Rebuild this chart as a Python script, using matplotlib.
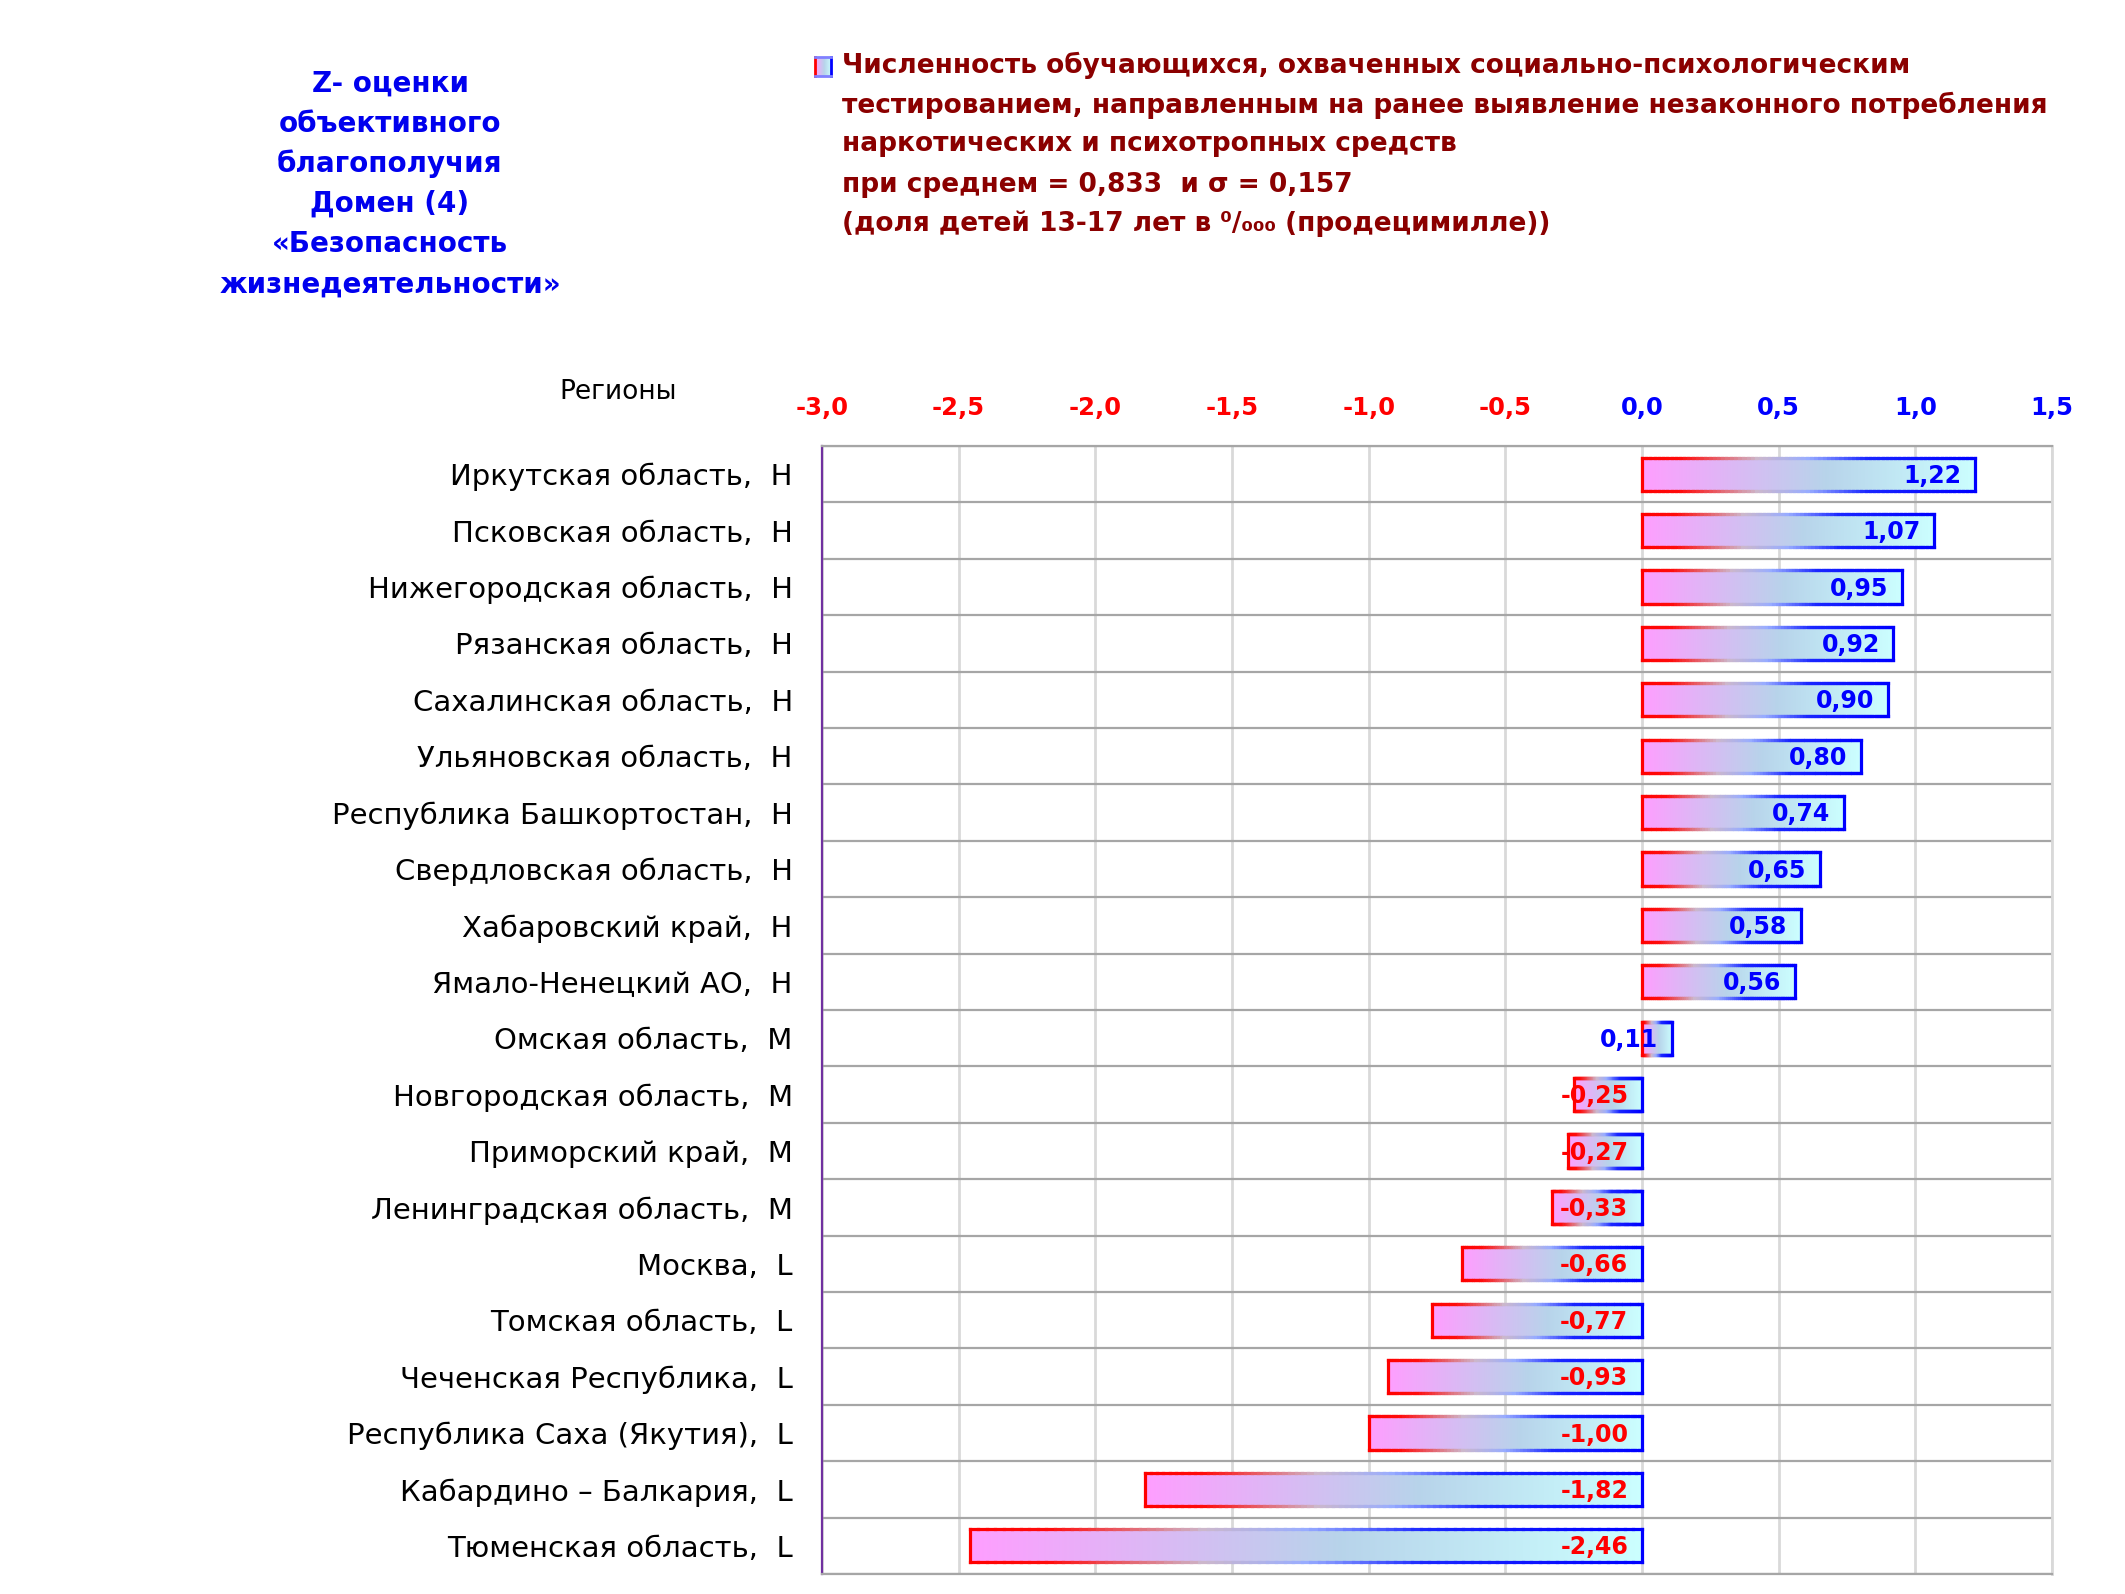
import numpy as np
import matplotlib
matplotlib.use("Agg")
import matplotlib.pyplot as plt
from matplotlib.colors import LinearSegmentedColormap
from matplotlib.collections import LineCollection

plt.rcParams['font.family'] = ['DejaVu Sans']

# ---------------- data ----------------
regions = [
    "Иркутская область", "Псковская область", "Нижегородская область",
    "Рязанская область", "Сахалинская область", "Ульяновская область",
    "Республика Башкортостан", "Свердловская область", "Хабаровский край",
    "Ямало-Ненецкий АО", "Омская область", "Новгородская область",
    "Приморский край", "Ленинградская область", "Москва", "Томская область",
    "Чеченская Республика", "Республика Саха (Якутия)", "Кабардино – Балкария",
    "Тюменская область",
]
grades = ["Н"] * 10 + ["М"] * 4 + ["L"] * 6
values = [1.22, 1.07, 0.95, 0.92, 0.90, 0.80, 0.74, 0.65, 0.58, 0.56,
          0.11, -0.25, -0.27, -0.33, -0.66, -0.77, -0.93, -1.00, -1.82, -2.46]
x_ticks = [-3.0, -2.5, -2.0, -1.5, -1.0, -0.5, 0.0, 0.5, 1.0, 1.5]

title_left = ["Z- оценки", "объективного", "благополучия", "Домен (4)",
              "«Безопасность", "жизнедеятельности»"]
legend_lines = [
    "Численность обучающихся, охваченных социально-психологическим",
    "тестированием, направленным на ранее выявление незаконного потребления",
    "наркотических и психотропных средств",
    "при среднем = 0,833  и σ = 0,157",
    "(доля детей 13-17 лет в ⁰/₀₀₀ (продецимилле))",
]

def fmt(v):
    return f"{v:.2f}".replace(".", ",")

# ---------------- figure ----------------
W, H = 2125, 1594
fig = plt.figure(figsize=(W / 100, H / 100), dpi=100)
ax = fig.add_axes([822 / W, 1 - 1574 / H, (2052 - 822) / W, (1574 - 446) / H])

fill_cmap = LinearSegmentedColormap.from_list(
    "fill", [(0.0, (1.0, 0.62, 1.0)), (0.55, (0.72, 0.83, 0.92)), (1.0, (0.8, 1.0, 1.0))])
edge_cmap = LinearSegmentedColormap.from_list(
    "edge", [(0.0, (1, 0, 0)), (0.12, (1, 0.05, 0.05)), (0.35, (0.8, 0.72, 0.8)),
             (0.5, (0.6, 0.68, 1.0)), (0.68, (0.1, 0.15, 1.0)), (1.0, (0, 0, 1))])

grad = np.linspace(0, 1, 256).reshape(1, -1)
bh = 0.59
n = len(values)
for i, v in enumerate(values):
    x0, x1 = min(0.0, v), max(0.0, v)
    ax.imshow(grad, cmap=fill_cmap, extent=[x0, x1, i + bh / 2, i - bh / 2],
              aspect="auto", zorder=3, interpolation="bilinear")
    xs = np.linspace(x0, x1, 80)
    segs, cols = [], []
    for k in range(len(xs) - 1):
        t = (k + 0.5) / (len(xs) - 1)
        for yy in (i - bh / 2, i + bh / 2):
            segs.append([(xs[k], yy), (xs[k + 1], yy)])
            cols.append(edge_cmap(t))
    segs.append([(x0, i - bh / 2), (x0, i + bh / 2)]); cols.append((1, 0, 0, 1))
    segs.append([(x1, i - bh / 2), (x1, i + bh / 2)]); cols.append((0, 0, 1, 1))
    ax.add_collection(LineCollection(segs, colors=cols, linewidths=2.3, zorder=4,
                                     capstyle="projecting"))
    xl = max(0.0, v) - 0.05
    ax.text(xl, i + 0.03, fmt(v), ha="right", va="center", fontsize=17,
            fontweight="bold", color="#0000FF" if v >= 0 else "#FF0000", zorder=5)

ax.set_xlim(-3.0, 1.5)
ax.set_ylim(n - 0.5, -0.5)

ax.xaxis.set_ticks_position("top")
ax.set_xticks(x_ticks)
ax.set_xticklabels([f"{t:.1f}".replace(".", ",") for t in x_ticks],
                   fontsize=17.5, fontweight="bold")
for lab, t in zip(ax.get_xticklabels(), x_ticks):
    lab.set_color("#FF0000" if t < 0 else "#0000FF")
ax.tick_params(axis="x", length=0, pad=19)

ax.set_yticks(range(n))
ax.set_yticklabels([f"{r},  {g}" for r, g in zip(regions, grades)], fontsize=21)
ax.set_yticks(np.arange(-0.5, n, 1), minor=True)
ax.tick_params(axis="y", which="both", length=0, pad=21)

ax.set_axisbelow(True)
ax.grid(which="major", axis="x", color="#D9D9D9", lw=2)
ax.grid(which="minor", axis="y", color="#A6A6A6", lw=1.6)
ax.grid(which="major", axis="y", visible=False)

ax.spines["left"].set_color("#7030A0"); ax.spines["left"].set_linewidth(1.6)
ax.spines["top"].set_color("#A6A6A6"); ax.spines["top"].set_linewidth(1.6)
ax.spines["bottom"].set_color("#A6A6A6"); ax.spines["bottom"].set_linewidth(1.6)
ax.spines["right"].set_color("#D9D9D9"); ax.spines["right"].set_linewidth(2)

# ---------------- texts ----------------
fig.text(618 / W, 1 - 392 / H, "Регионы", ha="center", va="center", fontsize=19,
         color="black")

ys_left = [84, 124, 164, 204, 244, 285]
for s, yy in zip(title_left, ys_left):
    fig.text(390 / W, 1 - yy / H, s, ha="center", va="center", fontsize=20,
             fontweight="bold", color="#0000EE")

ys_leg = [65, 105, 144, 185, 224]
for s, yy in zip(legend_lines, ys_leg):
    fig.text(842 / W, 1 - yy / H, s, ha="left", va="center", fontsize=19,
             fontweight="bold", color="#8B0000")

# legend marker (gradient square)
lax = fig.add_axes([815 / W, 1 - 76 / H, 16 / W, 19 / H])
lax.imshow(grad, cmap=fill_cmap, extent=[0, 1, 0, 1], aspect="auto")
lax.set_xticks([]); lax.set_yticks([])
lax.spines["left"].set_color("#FF0000")
lax.spines["right"].set_color("#0000FF")
lax.spines["top"].set_color("#8080FF")
lax.spines["bottom"].set_color("#8080FF")
for sp in lax.spines.values():
    sp.set_linewidth(2)

fig.savefig("out.png", dpi=100, facecolor="white")
